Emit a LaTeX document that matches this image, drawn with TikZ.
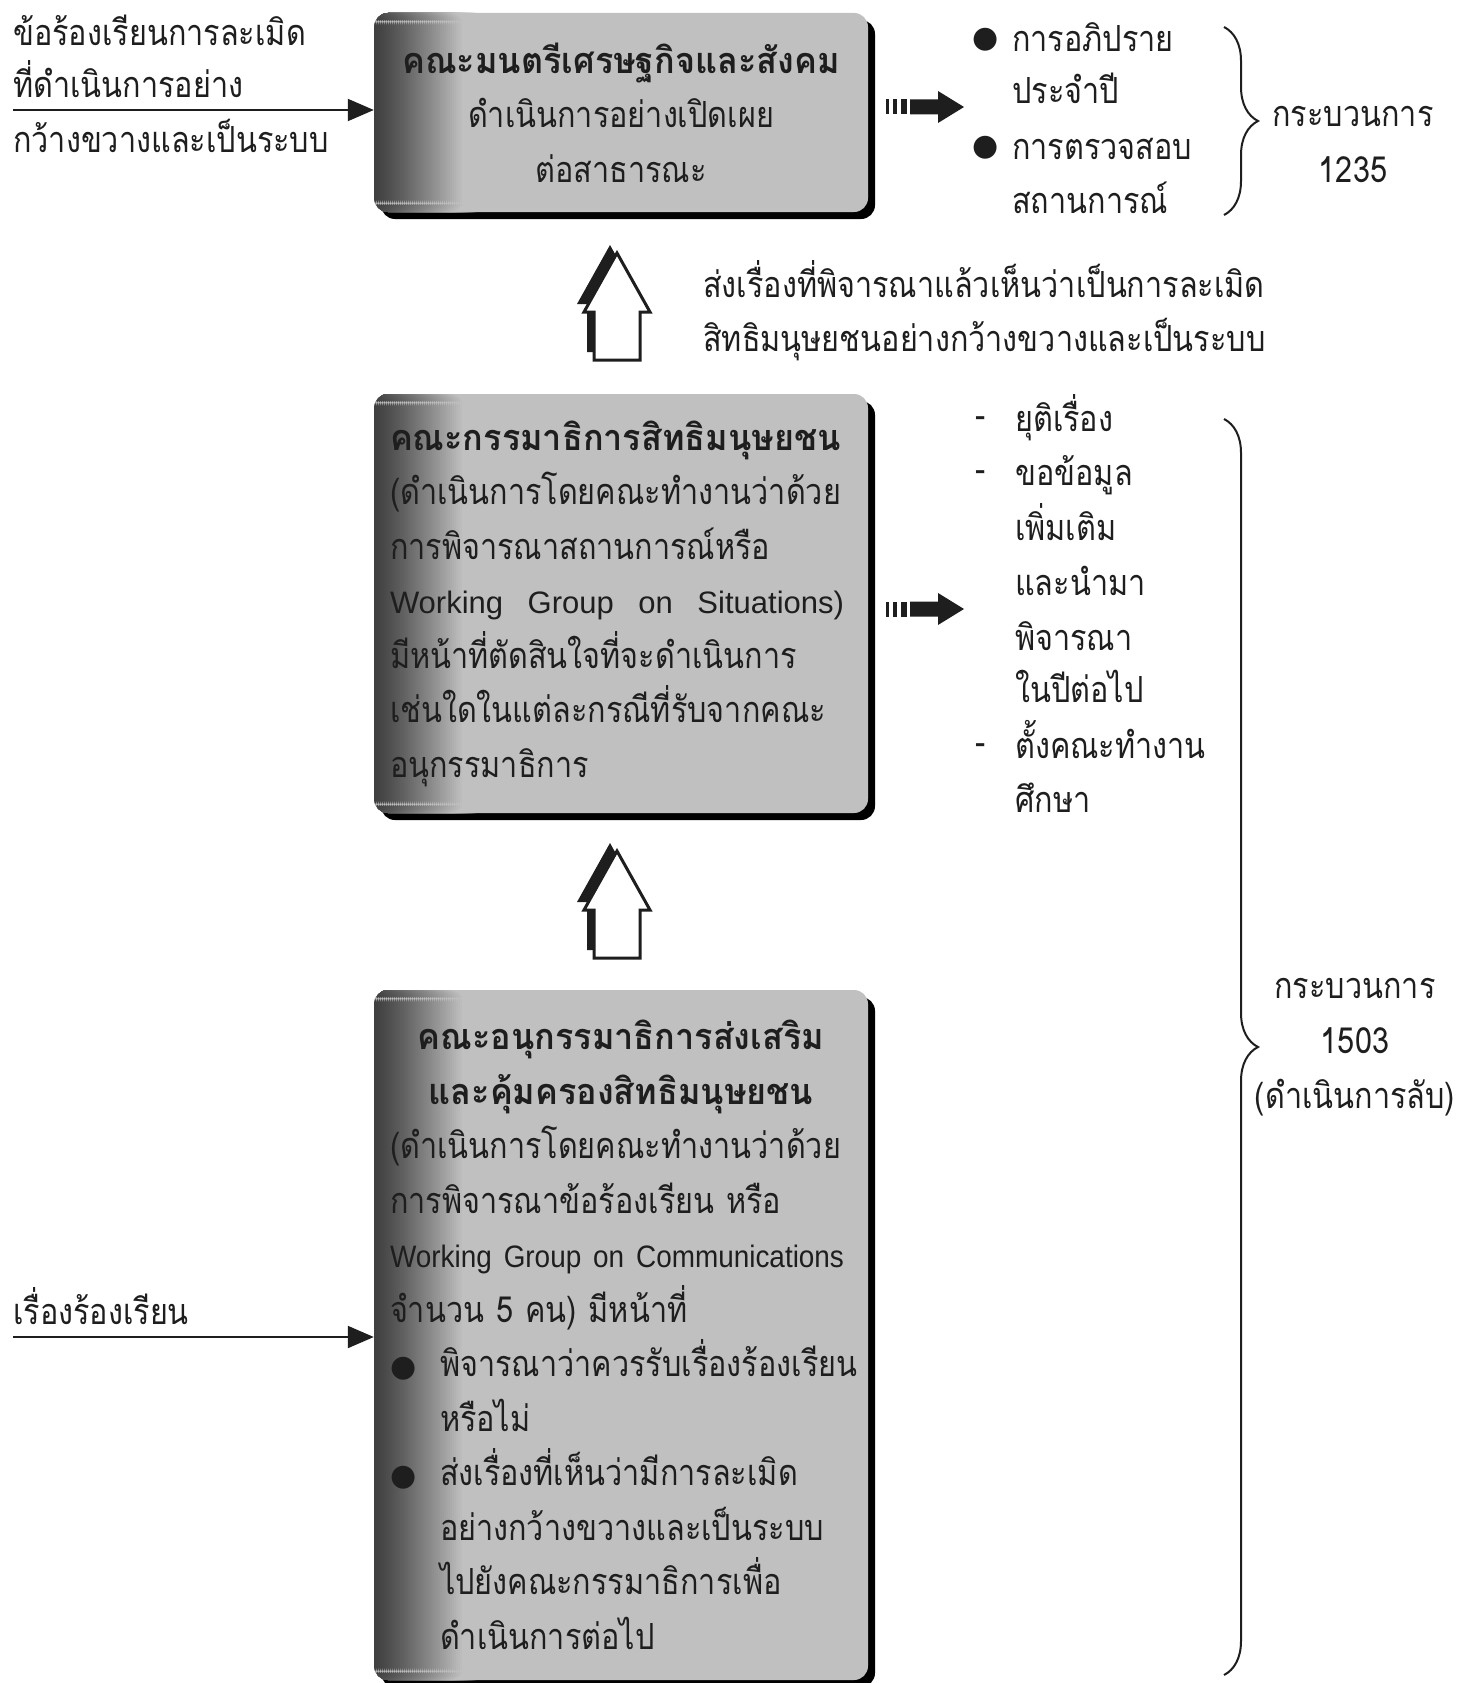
\documentclass[tikz,border=0pt]{standalone}
\usepackage{fontspec}
\setmainfont[Script=Thai, FakeStretch=0.85, BoldFeatures={FakeStretch=0.95}]{Loma}
\newfontfamily\latinf{Liberation Sans}
\newfontfamily\latinn[FakeStretch=0.9]{Liberation Sans}
\newfontfamily\symf{DejaVu Sans}
\usetikzlibrary{shadows,decorations.pathreplacing,arrows.meta,calc}
\definecolor{boxgray}{RGB}{192,192,192}
\definecolor{boxdark}{RGB}{64,64,64}
\definecolor{ink}{RGB}{30,30,30}
\newcommand{\thsize}{\fontsize{36}{54.5}\selectfont}
\newcommand{\ctrline}[1]{\noindent\hbox to\hsize{\hfil #1\hfil}}
\newcommand{\bul}{{\symf\fontsize{30}{30}\selectfont ●}}
\newcommand{\bitem}[1]{\noindent\makebox[50pt][l]{\bul}#1}
\newcommand{\bcont}[1]{\noindent\hspace*{50pt}#1}
\newcommand{\spreadline}[1]{\noindent\hbox to 454pt{#1}}
\begin{document}
\begin{tikzpicture}[x=1pt,y=-1pt,
  every node/.style={inner sep=0pt, text=ink, font=\thsize},
  panel/.style={fill=boxgray, rounded corners=14pt, minimum width=494pt,
     inner xsep=16pt, inner ysep=0pt, text width=462pt,
     drop shadow={shadow xshift=7pt, shadow yshift=-7pt, fill=black, opacity=1},
     path picture={
       \foreach \i in {0,...,44}{
         \pgfmathsetmacro\pc{100*(\i/44)^1.2}
         \fill[boxgray!\pc!boxdark]
           ([xshift=\i*2pt]path picture bounding box.north west) rectangle
           ([xshift=\i*2pt+2.4pt]path picture bounding box.south west);
       }}},
  lbl/.style={anchor=base west, yshift=-3pt},
  clbl/.style={anchor=base, yshift=-3pt},
  feed/.style={line width=2pt, draw=ink, -{Triangle[length=26pt,width=22pt]}},
  brc/.style={draw=ink, line width=2pt, decorate, decoration={brace, amplitude=34pt}},
  striparrow/.pic={
    \fill[ink] (0,-7.5) rectangle (3,7.5);
    \fill[ink] (7,-7.5) rectangle (11,7.5);
    \fill[ink] (15,-7.5) rectangle (21,7.5);
    \fill[ink] (24,-7.5) -- (52,-7.5) -- (52,-16) -- (78,0) -- (52,16) -- (52,7.5) -- (24,7.5) -- cycle;
  },
  hollowup/.pic={
    \fill[ink] (-7,-8) -- (-40,51) -- (-30,51) -- (-30,99) -- (16,99) -- (16,51) -- (26,51) -- cycle;
    \draw[ink, line width=3pt, fill=white, miter limit=4] (0,0) -- (-33,59) -- (-23,59) -- (-23,107) -- (23,107) -- (23,59) -- (33,59) -- cycle;
  },
]
\useasboundingbox (0,0) rectangle (1472,1683);
\fill[white] (0,0) rectangle (1472,1683);

% boxes
\node[panel, minimum height=199pt, align=center] (b1) at (621,112.5)
  {\textbf{คณะมนตรีเศรษฐกิจและสังคม}\\ดำเนินการอย่างเปิดเผย\\ต่อสาธารณะ};
\node[panel, minimum height=419pt, align=left] (b2) at (621,603.5)
  {\textbf{คณะกรรมาธิการสิทธิมนุษยชน}\\
   (ดำเนินการโดยคณะทำงานว่าด้วย\\
   การพิจารณาสถานการณ์หรือ\\
   {\latinf\fontsize{31}{54.5}\selectfont\spreadline{Working\hfill Group\hfill on\hfill Situations)}}\\
   มีหน้าที่ตัดสินใจที่จะดำเนินการ\\
   เช่นใดในแต่ละกรณีที่รับจากคณะ\\
   อนุกรรมาธิการ};
\node[panel, minimum height=690pt, align=left] (b3) at (621,1335)
  {\ctrline{\textbf{คณะอนุกรรมาธิการส่งเสริม}}\\
   \ctrline{\textbf{และคุ้มครองสิทธิมนุษยชน}}\\
   (ดำเนินการโดยคณะทำงานว่าด้วย\\
   การพิจารณาข้อร้องเรียน หรือ\\
   {\latinn\fontsize{31}{54.5}\selectfont\spreadline{Working\hfill Group\hfill on\hfill Communications}}\\
   จำนวน 5 คน) มีหน้าที่\\
   \bitem{พิจารณาว่าควรรับเรื่องร้องเรียน}\\
   \bcont{หรือไม่}\\
   \bitem{ส่งเรื่องที่เห็นว่ามีการละเมิด}\\
   \bcont{อย่างกว้างขวางและเป็นระบบ}\\
   \bcont{ไปยังคณะกรรมาธิการเพื่อ}\\
   \bcont{ดำเนินการต่อไป}};

% top-left input
\node[lbl] (tl1) at (13,43) {ข้อร้องเรียนการละเมิด};
\node[lbl] (tl2) at (13,95) {ที่ดำเนินการอย่าง};
\node[lbl] (tl3) at (13,149) {กว้างขวางและเป็นระบบ};
\coordinate (in1) at (13,110);
\draw[feed] (in1) -- (in1 -| b1.west);

% bottom-left input
\node[lbl] (bl1) at (13,1321) {เรื่องร้องเรียน};
\coordinate (in2) at (13,1337);
\draw[feed] (in2) -- (in2 -| b3.west);

% striped arrows
\pic at (886,107) {striparrow};
\pic at (886,609) {striparrow};

% top-right list
\node[anchor=center] (tb1) at (986,40) {\bul};
\node[lbl] (tr1) at (1012,49) {การอภิปราย};
\node[lbl] (tr2) at (1012,101) {ประจำปี};
\node[anchor=center] (tb2) at (986,148) {\bul};
\node[lbl] (tr3) at (1012,157) {การตรวจสอบ};
\node[lbl] (tr4) at (1012,210) {สถานการณ์};
\draw[brc] (1224,27) -- (1224,215);
\node[clbl] (p1a) at (1353,124) {กระบวนการ};
\node[clbl] (p1b) at (1353,179) {1235};

% hollow up arrows
\pic at (617,253) {hollowup};
\pic at (617,851) {hollowup};
\node[lbl] (mid1) at (703,294) {ส่งเรื่องที่พิจารณาแล้วเห็นว่าเป็นการละเมิด};
\node[lbl] (mid2) at (703,348) {สิทธิมนุษยชนอย่างกว้างขวางและเป็นระบบ};

% middle list
\node[anchor=center] (d1) at (981,422) {-};
\node[lbl] (m1) at (1015,428) {ยุติเรื่อง};
\node[anchor=center] (d2) at (981,476) {-};
\node[lbl] (m2) at (1015,482) {ขอข้อมูล};
\node[lbl] (m3) at (1015,537) {เพิ่มเติม};
\node[lbl] (m4) at (1015,592) {และนำมา};
\node[lbl] (m5) at (1015,647) {พิจารณา};
\node[lbl] (m6) at (1015,699) {ในปีต่อไป};
\node[anchor=center] (d3) at (981,749) {-};
\node[lbl] (m7) at (1015,755) {ตั้งคณะทำงาน};
\node[lbl] (m8) at (1015,809) {ศึกษา};
\draw[brc] (1224,419) -- (1224,1675);
\node[clbl] (p2a) at (1355,995) {กระบวนการ};
\node[clbl] (p2b) at (1355,1050) {1503};
\node[clbl] (p2c) at (1355,1105) {(ดำเนินการลับ)};
\end{tikzpicture}
\end{document}
